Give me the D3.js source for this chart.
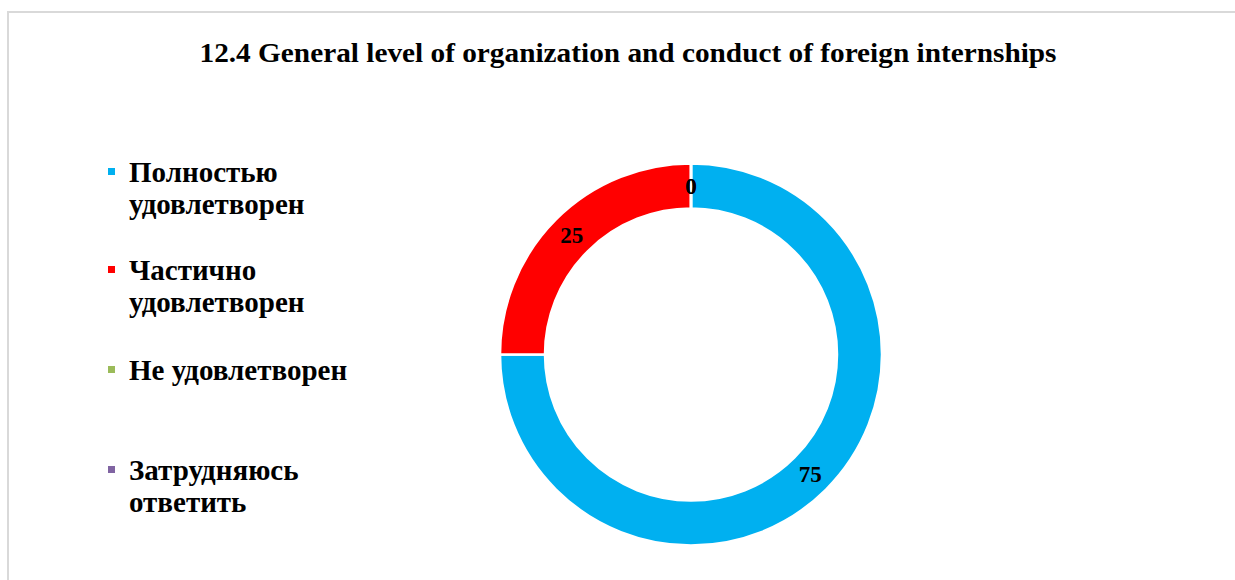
<!DOCTYPE html>
<html>
<head>
<meta charset="utf-8">
<script src="https://cdn.jsdelivr.net/npm/d3@7"></script>
</head>
<body style="margin:0; background:#ffffff">
<div id="chart"></div>
<script>
// Chart data
var titleText = "12.4 General level of organization and conduct of foreign internships";
var categories = [["Полностью", "удовлетворен"], ["Частично", "удовлетворен"], ["Не удовлетворен"], ["Затрудняюсь", "ответить"]];
var values = [75, 25, 0, 0];
var colors = ["#00B0F0", "#FF0000", "#9BBB59", "#8064A2"];

var svgWidth = 1235;
var svgHeight = 580;
var font = "Liberation Serif";

var svg = d3.select("#chart")
    .append("svg")
    .attr("width", svgWidth)
    .attr("height", svgHeight)
    .attr("font-family", font)
    .attr("font-weight", "bold");

// light frame around the chart area
svg.append("rect")
    .attr("x", 8)
    .attr("y", 12)
    .attr("width", 1300)
    .attr("height", 700)
    .attr("fill", "#ffffff")
    .attr("stroke", "#d9d9d9")
    .attr("stroke-width", 2);

svg.append("text")
    .attr("x", 628)
    .attr("y", 62)
    .attr("text-anchor", "middle")
    .attr("font-family", font)
    .attr("font-weight", "bold")
    .attr("font-size", "28px")
    .attr("textLength", 857)
    .attr("lengthAdjust", "spacingAndGlyphs")
    .attr("fill", "#000000")
    .text(titleText);

// Donut
var cx = 691, cy = 354.5;
var outerR = 191, innerR = 146;

var data = categories.map(function (c, i) {
    return { name: c.join(" "), value: values[i], color: colors[i] };
});

var pie = d3.pie()
    .sort(null)
    .value(d => d.value);

var arc = d3.arc()
    .innerRadius(innerR)
    .outerRadius(outerR);

var donut = svg.append("g")
    .attr("transform", `translate(${cx}, ${cy})`);

var arcs = pie(data);

donut.selectAll("path")
    .data(arcs)
    .enter()
    .append("path")
    .attr("d", arc)
    .attr("fill", d => d.data.color)
    .attr("stroke", "#ffffff")
    .attr("stroke-width", 2.5);

donut.selectAll("text.val")
    .data(arcs)
    .enter()
    .append("text")
    .attr("class", "val")
    .attr("transform", d => `translate(${arc.centroid(d)})`)
    .attr("dy", ".35em")
    .attr("text-anchor", "middle")
    .attr("font-family", font)
    .attr("font-weight", "bold")
    .attr("font-size", "23px")
    .attr("fill", "#000000")
    .text(d => d.data.value);

// Legend
var legendY = [182, 280, 380, 480];

var legend = svg.append("g");

var items = legend.selectAll("g")
    .data(data)
    .enter()
    .append("g")
    .attr("transform", (d, i) => `translate(0, ${legendY[i]})`);

items.append("rect")
    .attr("x", 108)
    .attr("y", -14)
    .attr("width", 7)
    .attr("height", 7)
    .attr("fill", d => d.color);

items.append("text")
    .attr("x", 129)
    .attr("y", 0)
    .attr("font-family", font)
    .attr("font-weight", "bold")
    .attr("font-size", "29px")
    .attr("fill", "#000000")
    .each(function (d, i) {
        var t = d3.select(this);
        categories[i].forEach(function (line, j) {
            t.append("tspan")
                .attr("x", 129)
                .attr("dy", j === 0 ? 0 : 32)
                .text(line);
        });
    });
</script>
</body>
</html>
